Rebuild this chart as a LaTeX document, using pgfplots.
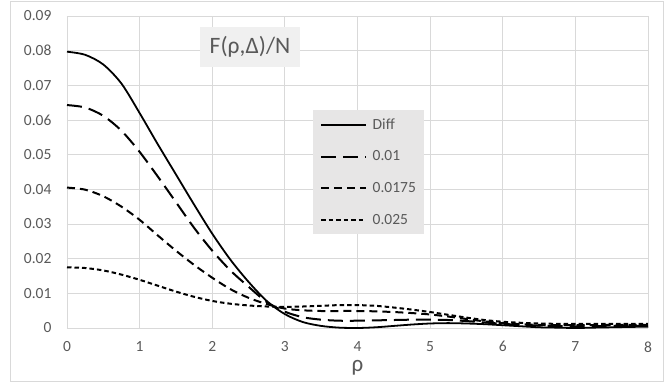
\documentclass[border=0pt]{standalone}
\usepackage{pgfplots}
\pgfplotsset{compat=1.18}
\usepackage{pgfplotstable}
\usepackage{fontspec}
\setmainfont{Carlito}
\definecolor{tickgrey}{HTML}{595959}
\definecolor{gridgrey}{HTML}{D9D9D9}
\definecolor{legfill}{HTML}{E7E6E6}
\definecolor{titlefill}{HTML}{F0F0F0}
\pgfplotstableread{
rho diff d01 d0175 d025
0 0.0797 0.0643 0.0405 0.0175
0.25 0.0788 0.0636 0.0399 0.0173
0.5 0.0760 0.0612 0.0380 0.0166
0.75 0.0705 0.0569 0.0350 0.0154
1 0.0620 0.0508 0.0312 0.0139
1.25 0.0530 0.0437 0.0267 0.0122
1.5 0.0443 0.0363 0.0223 0.0105
1.75 0.0356 0.0289 0.0182 0.0090
2 0.0272 0.0223 0.0145 0.0078
2.25 0.0197 0.0166 0.0112 0.0070
2.5 0.0133 0.0119 0.0087 0.0065
2.75 0.0078 0.0075 0.0069 0.0062
3 0.0040 0.0047 0.0056 0.0061
3.25 0.0017 0.0031 0.0051 0.0062
3.5 0.0006 0.0024 0.0049 0.0064
3.75 0.0001 0.0021 0.0049 0.0066
4 0.0000 0.0021 0.0049 0.0066
4.25 0.0002 0.0022 0.0048 0.0064
4.5 0.0006 0.0023 0.0046 0.0059
4.75 0.0010 0.0024 0.0043 0.0053
5 0.0013 0.0024 0.0039 0.0046
5.25 0.0014 0.0023 0.0033 0.0038
5.5 0.0013 0.0020 0.0026 0.0030
5.75 0.0011 0.0016 0.0019 0.0023
6 0.0008 0.0012 0.0014 0.0018
6.25 0.0005 0.0009 0.0011 0.0015
6.5 0.0002 0.0007 0.0009 0.0013
6.75 0.0001 0.0006 0.0008 0.0012
7 0.0000 0.0005 0.0008 0.0012
7.25 0.0001 0.0005 0.0008 0.0012
7.5 0.0002 0.0006 0.0009 0.0012
7.75 0.0003 0.0006 0.0009 0.0012
8 0.0004 0.0007 0.0009 0.0012
}\datatable
\begin{document}
\begin{tikzpicture}
\path[use as bounding box] (0pt,0pt) rectangle (665pt,387pt);
\draw[gridgrey, line width=0.8pt] (10pt,6pt) rectangle (663pt,386pt);
\begin{axis}[
  at={(67pt,59pt)}, anchor=south west,
  scale only axis, width=581pt, height=312pt,
  xmin=0, xmax=8, ymin=0, ymax=0.09,
  xtick={0,1,...,8},
  ytick={0,0.01,0.02,0.03,0.04,0.05,0.06,0.07,0.08,0.09},
  yticklabels={0,0.01,0.02,0.03,0.04,0.05,0.06,0.07,0.08,0.09},
  scaled y ticks=false,
  /pgf/number format/assume math mode=true,
  major tick length=0pt,
  axis line style={draw=none},
  grid=major,
  major grid style={gridgrey, line width=0.9pt},
  tick label style={font=\fontsize{15.5}{17}\selectfont, text=tickgrey},
  yticklabel style={xshift=-12pt},
  xticklabel style={yshift=-10pt},
  xlabel={ρ},
  xlabel style={at={(axis description cs:0.5,-0.128)}, anchor=center, font=\fontsize{23}{25}\selectfont, text=tickgrey},
  clip=false,
  legend cell align=left,
  legend image code/.code={\draw[#1] (0pt,0pt) -- (45pt,0pt);},
  legend style={at={(rel axis cs:0.4234,0.6987)}, anchor=north west,
    fill=legfill, draw=none, font=\fontsize{15.5}{17}\selectfont, text=tickgrey,
    inner xsep=7pt, inner ysep=7pt, row sep=17pt,
    nodes={inner sep=1.5pt},
    /tikz/every odd column/.append style={column sep=4pt}},
]
\addplot[black, line width=1.8pt, smooth, tension=0.5] table[x=rho, y=diff] {\datatable};
\addlegendentry{Diff}
\addplot[black, line width=2pt, smooth, tension=0.5, dash pattern=on 15pt off 7pt] table[x=rho, y=d01] {\datatable};
\addlegendentry{0.01}
\addplot[black, line width=2pt, smooth, tension=0.5, dash pattern=on 8pt off 5pt] table[x=rho, y=d0175] {\datatable};
\addlegendentry{0.0175}
\addplot[black, line width=2pt, smooth, tension=0.5, dash pattern=on 4.5pt off 3pt] table[x=rho, y=d025] {\datatable};
\addlegendentry{0.025}
\node[fill=titlefill, text=tickgrey, font=\fontsize{23.5}{25}\selectfont, minimum width=100pt, minimum height=40pt, inner sep=0pt] at (rel axis cs:0.315,0.9006) {F(ρ,Δ)/N};
\end{axis}
\end{tikzpicture}
\end{document}
